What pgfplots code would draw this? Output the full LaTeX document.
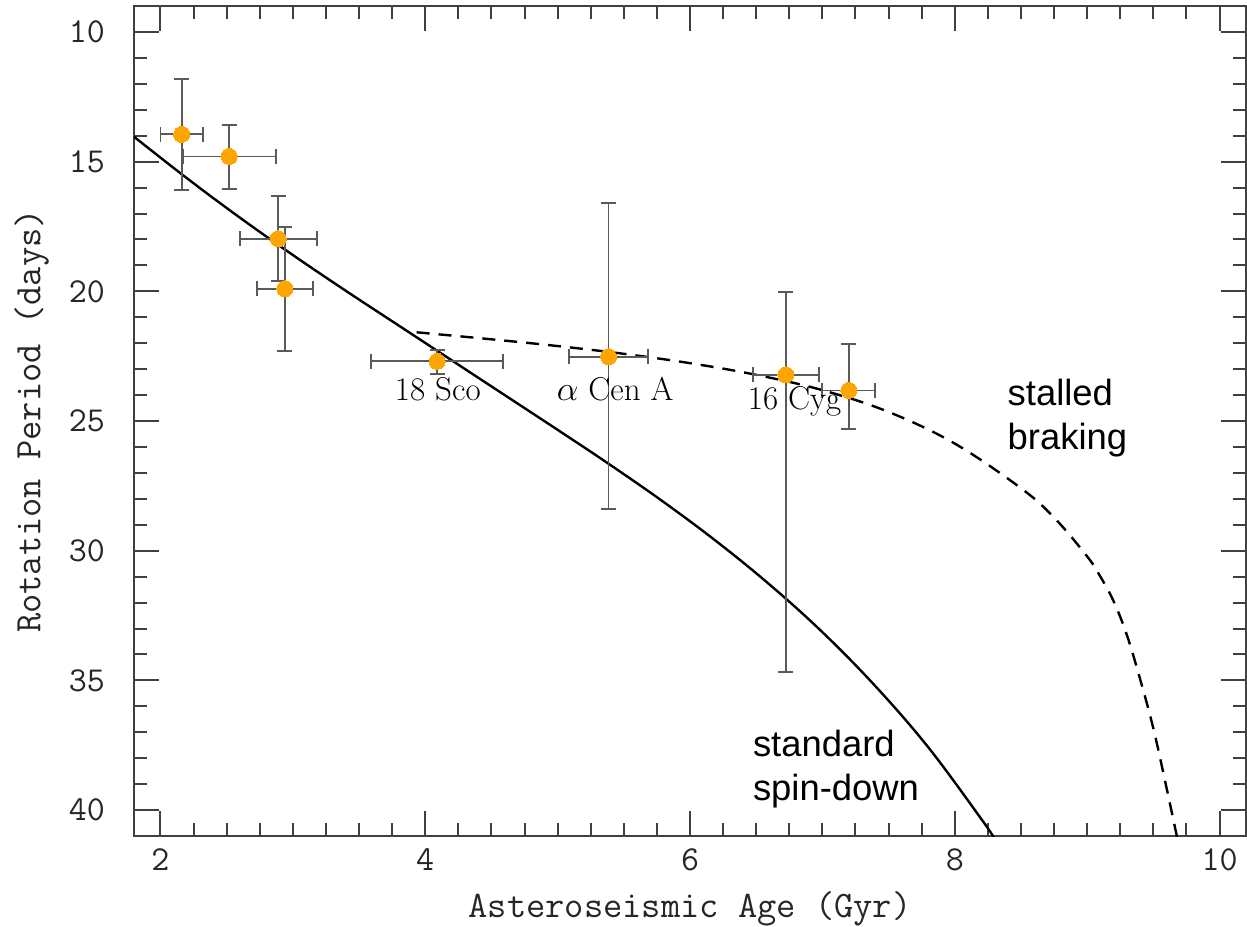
\documentclass[border=0pt]{standalone}
\usepackage{pgfplots}
\pgfplotsset{compat=1.18}
\usepackage{pgfplotstable}
\usepackage{fontspec}
\newfontfamily\arial{Liberation Sans}
\definecolor{ptorange}{HTML}{FFA500}
\definecolor{ebgray}{HTML}{5A5A5A}
\definecolor{axgray}{HTML}{404040}

\pgfplotstableread{
x y exm exp eym eyp
2.16 13.95 0.16 0.16 2.15 2.15
2.52 14.80 0.35 0.35 1.20 1.25
2.89 17.97 0.29 0.29 1.64 1.64
2.94 19.90 0.21 0.21 2.37 2.40
4.09 22.70 0.50 0.50 0.45 0.48
5.385 22.52 0.30 0.30 5.91 5.88
6.724 23.22 0.25 0.25 3.20 11.45
7.20 23.82 0.20 0.20 1.80 1.49
}\stars

\pgfplotstableread{
x y
1.80 14.04
2.20 15.64
2.60 17.16
3.00 18.60
3.40 19.98
3.80 21.32
4.20 22.66
4.60 24.00
5.00 25.34
5.40 26.70
5.80 28.12
6.20 29.64
6.60 31.30
7.00 33.14
7.40 35.22
7.80 37.58
8.20 40.34
8.30 41.10
}\standard

\pgfplotstableread{
x y
3.935 21.58
4.50 21.85
5.00 22.11
5.50 22.41
6.00 22.77
6.50 23.22
7.00 23.81
7.50 24.65
8.00 25.87
8.50 27.59
8.75 28.72
9.00 30.22
9.10 31.00
9.20 31.95
9.30 33.25
9.40 34.95
9.50 36.85
9.60 39.15
9.70 41.55
}\stalled

\begin{document}
\begin{tikzpicture}
\begin{axis}[
  scale only axis,
  width=556bp, height=415bp,
  xmin=1.8, xmax=10.2,
  ymin=9, ymax=41,
  y dir=reverse,
  xtick={2,4,6,8,10},
  ytick={10,15,20,25,30,35,40},
  minor x tick num=7,
  minor y tick num=4,
  tick align=inside,
  xtick pos=both, ytick pos=both,
  major tick length=12.5bp,
  minor tick length=6.5bp,
  every tick/.style={axgray, line width=1bp},
  axis line style={axgray, line width=1bp},
  /pgf/number format/assume math mode=true,
  ticklabel style={font=\ttfamily\fontsize{17.5bp}{20bp}\selectfont, text=black!85},
  xticklabel style={yshift=-3bp},
  yticklabel style={xshift=-11bp},
  xlabel={Asteroseismic Age (Gyr)},
  ylabel={Rotation Period (days)},
  label style={font=\ttfamily\fontsize{18.7bp}{22bp}\selectfont, text=black!85},
  xlabel style={at={(axis description cs:0.5,-0.0976)}, anchor=base},
  ylabel style={at={(axis description cs:-0.092,0.5)}, anchor=center},
  clip=true,
]
\addplot[black, line width=1.2bp, smooth, tension=0.6] table[x=x,y=y] {\standard};
\addplot[black, line width=1.2bp, dash pattern=on 6.5bp off 4.5bp, smooth, tension=0.6] table[x=x,y=y] {\stalled};

\addplot[only marks, mark=none,
  error bars/.cd,
    x dir=both, x explicit,
    y dir=both, y explicit,
    error bar style={ebgray, line width=0.9bp},
    error mark options={ebgray, line width=0.9bp, mark size=3.75bp, rotate=90},
] table[x=x, y=y, x error plus=exp, x error minus=exm, y error plus=eyp, y error minus=eym] {\stars};

\addplot[ptorange, only marks, mark=*, mark size=4bp, mark options={draw=ptorange, fill=ptorange, line width=0pt}]
  table[x=x,y=y] {\stars};

\node[anchor=base, font=\fontsize{16.5bp}{18bp}\selectfont] at (axis cs:4.095,24.19) {18 Sco};
\node[anchor=base, font=\fontsize{16.5bp}{18bp}\selectfont] at (axis cs:5.435,24.19) {$\alpha$ Cen A};
\node[anchor=base, font=\fontsize{16.5bp}{18bp}\selectfont] at (axis cs:6.79,24.57) {16 Cyg};

\node[anchor=base west, inner sep=0pt, font=\arial\fontsize{18.2bp}{22bp}\selectfont] at (axis cs:8.397,24.41) {stalled};
\node[anchor=base west, inner sep=0pt, font=\arial\fontsize{18.2bp}{22bp}\selectfont] at (axis cs:8.397,26.11) {braking};
\node[anchor=base west, inner sep=0pt, font=\arial\fontsize{18.2bp}{22bp}\selectfont] at (axis cs:6.473,37.95) {standard};
\node[anchor=base west, inner sep=0pt, font=\arial\fontsize{18.2bp}{22bp}\selectfont] at (axis cs:6.473,39.62) {spin-down};
\end{axis}
\pgfresetboundingbox
\path (-67bp,-45.5bp) rectangle (556.5bp,418bp);
\end{tikzpicture}
\end{document}
